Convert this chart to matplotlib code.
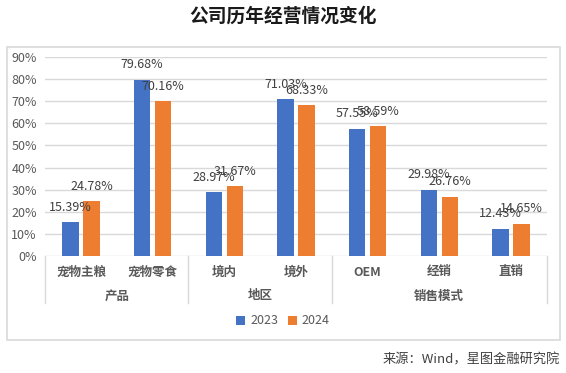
import matplotlib.pyplot as plt
import numpy as np
from matplotlib.patches import Rectangle

plt.rcParams['font.family'] = ['Noto Sans CJK SC', 'DejaVu Sans']

# data
categories = ['宠物主粮', '宠物零食', '境内', '境外', 'OEM', '经销', '直销']
groups = ['产品', '地区', '销售模式']
group_sizes = [2, 2, 3]
v2023 = [15.39, 79.68, 28.97, 71.03, 57.55, 29.98, 12.43]
v2024 = [24.78, 70.16, 31.67, 68.33, 58.59, 26.76, 14.65]

blue = '#4472C4'
orange = '#ED7D31'
grid_c = '#D9D9D9'
txt_c = '#595959'
lbl_c = '#404040'

W, H = 566, 373
fig = plt.figure(figsize=(W / 100, H / 100), dpi=100)

# axes box in pixels: left 45, right 547, top 57, bottom 256
ax = fig.add_axes([45.2 / W, 1 - 256 / H, (546.7 - 45.2) / W, (256 - 57) / H])

x = np.arange(len(categories))
off = 0.147
bw = 0.228
b1 = ax.bar(x - off, v2023, bw, color=blue, label='2023', zorder=3)
b2 = ax.bar(x + off, v2024, bw, color=orange, label='2024', zorder=3)

for bars, vals in [(b1, v2023), (b2, v2024)]:
    for b, v in zip(bars, vals):
        ax.annotate(f'{v:.2f}%', (b.get_x() + b.get_width() / 2, v),
                    xytext=(0, 6), textcoords='offset points',
                    ha='center', va='bottom', fontsize=9, color=lbl_c, zorder=5)

ax.set_xlim(-0.5, len(categories) - 0.5)
ax.set_ylim(0, 90)
ax.set_yticks(range(0, 91, 10))
ax.set_yticklabels([f'{t}%' for t in range(0, 91, 10)], fontsize=9, color=txt_c)
ax.tick_params(axis='y', length=0, pad=6)
ax.set_xticks([])
ax.grid(axis='y', color=grid_c, linewidth=1, zorder=0)
for s in ax.spines.values():
    s.set_visible(False)

# two level category axis
trans = ax.get_xaxis_transform()
for i, c in enumerate(categories):
    ax.text(i, -16 / 199, c, transform=trans, ha='center', va='center',
            fontsize=9, color=txt_c, fontweight='bold')
start = 0
bounds = [-0.5]
for g, n in zip(groups, group_sizes):
    mid = start + (n - 1) / 2
    ax.text(mid, -40 / 199, g, transform=trans, ha='center', va='center',
            fontsize=9, color=txt_c, fontweight='bold')
    start += n
    bounds.append(start - 0.5)
for b in bounds:
    ax.plot([b, b], [0, -47 / 199], transform=trans, color=grid_c,
            linewidth=1, clip_on=False)

fig.legend(handles=[b1, b2], loc='center', bbox_to_anchor=(0.5, 1 - 321 / H),
           ncol=2, frameon=False, fontsize=9, handlelength=0.7, handleheight=0.7,
           handletextpad=0.4, columnspacing=0.8, labelcolor=txt_c)

# outer chart border
fig.patches.append(Rectangle((7 / W, 1 - 340 / H), 553 / W, 293 / H,
                             transform=fig.transFigure, fill=False,
                             edgecolor=grid_c, linewidth=1.2))

fig.text(0.5, 1 - 16 / H, '公司历年经营情况变化', ha='center', va='center',
         fontsize=13.5, fontweight='bold', color='#1a1a1a')
fig.text(560 / W, 1 - 360 / H, '来源：Wind，星图金融研究院', ha='right',
         va='center', fontsize=9.5, color='#404040')

fig.savefig('out.png', dpi=100)
